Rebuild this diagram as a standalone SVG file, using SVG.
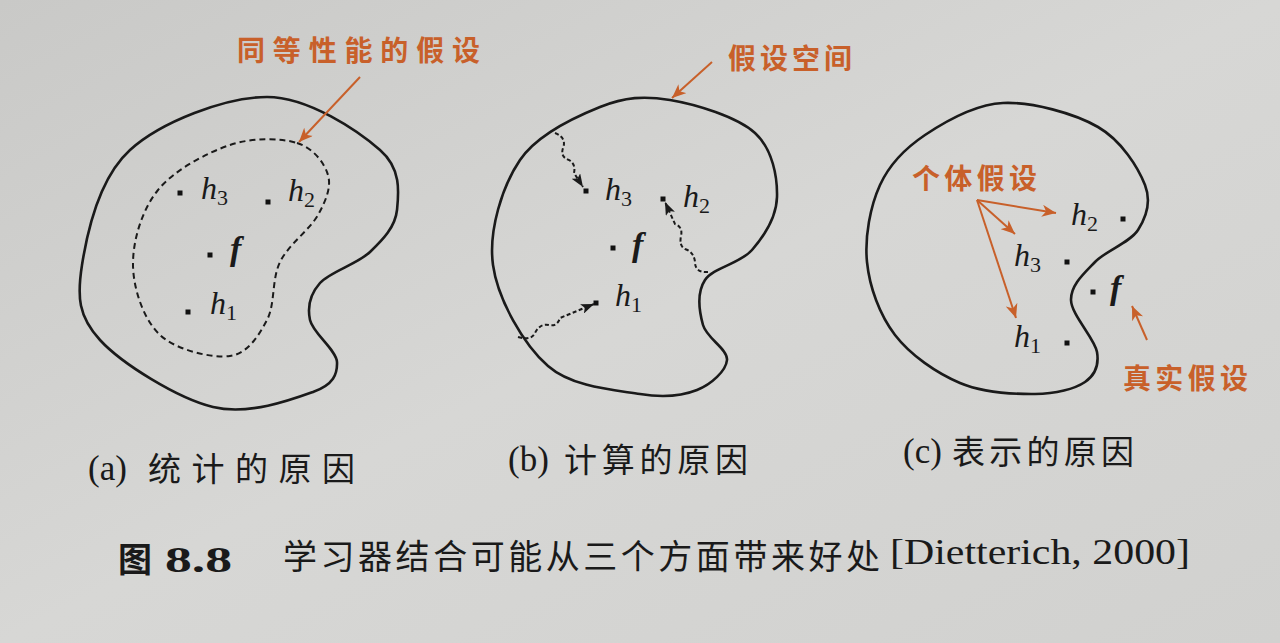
<svg xmlns="http://www.w3.org/2000/svg" width="1280" height="643" viewBox="0 0 1280 643">
<defs>
<linearGradient id="bg" x1="0" y1="0" x2="1" y2="1">
<stop offset="0" stop-color="#c9c9c7"/>
<stop offset="0.5" stop-color="#d7d7d5"/>
<stop offset="1" stop-color="#d1d1cf"/>
</linearGradient>
<marker id="ah" markerWidth="14" markerHeight="10" refX="13" refY="5" orient="auto" markerUnits="userSpaceOnUse">
<path d="M0,0 L13,5 L0,10 L3,5 z" fill="#1a1a1a" stroke="none"/>
</marker>
<marker id="oh" markerWidth="16" markerHeight="12" refX="14" refY="6" orient="auto" markerUnits="userSpaceOnUse">
<path d="M0,0 L14,6 L0,12 L4,6 z" fill="#c8602a" stroke="none"/>
</marker>
</defs>
<style>
.shape{fill:none;stroke:#1a1a1a;stroke-width:2.6}
.dash{fill:none;stroke:#1a1a1a;stroke-width:2;stroke-dasharray:6 4}
.wavy{fill:none;stroke:#1a1a1a;stroke-width:2;stroke-dasharray:4 2.5}
.oline{fill:none;stroke:#c8602a;stroke-width:2}
.dot{fill:#111}
.m{font-family:"Liberation Serif",serif;font-style:italic;font-size:32px;fill:#1a1a1a}
.sub{font-style:normal;font-size:22px}
.fb{font-family:"Liberation Serif",serif;font-style:italic;font-weight:bold;font-size:34px;fill:#1a1a1a}
.ol{font-family:"Noto Sans CJK SC",sans-serif;font-weight:bold;font-size:28px;fill:#c8602a}
.lat{font-family:"Liberation Serif",serif;font-size:35px;fill:#1a1a1a}
.cjk{font-family:"Noto Sans CJK SC",sans-serif;fill:#1a1a1a}
.cap{font-size:33px}
.fig{font-size:34px}
</style>
<rect width="1280" height="643" fill="url(#bg)"/>

<g id="panel-a">
<path class="shape" d="M267,97 C308.7,97 358.3,131.2 380,150 C401.7,168.8 398.7,193 397,210 C395.3,227 382.8,239.8 370,252 C357.2,264.2 330,271.7 320,283 C310,294.3 307.2,306.8 310,320 C312.8,333.2 336.5,350 337,362 C337.5,374 333.7,384.5 313,392 C292.3,399.5 248.5,415.7 213,407 C177.5,398.3 121.8,363.7 100,340 C78.2,316.3 77,296.7 82,265 C87,233.3 99.2,178 130,150 C160.8,122 225.3,97 267,97 Z"/>
<path class="dash" d="M297,143 C313.3,148 324.5,163 328,175 C331.5,187 326,200.5 318,215 C310,229.5 288.5,244.5 280,262 C271.5,279.5 275.3,304.3 267,320 C258.7,335.7 247.8,353.5 230,356 C212.2,358.5 176.2,350.2 160,335 C143.8,319.8 133.3,289.2 133,265 C132.7,240.8 141.8,210 158,190 C174.2,170 206.8,152.8 230,145 C253.2,137.2 280.7,138 297,143 Z"/>
<rect class="dot" x="177.5" y="190.5" width="5" height="5"/>
<text class="m" x="201" y="199">h<tspan class="sub" dy="6">3</tspan></text>
<rect class="dot" x="265.5" y="199.5" width="5" height="5"/>
<text class="m" x="288" y="201">h<tspan class="sub" dy="6">2</tspan></text>
<rect class="dot" x="207.5" y="252.5" width="5" height="5"/>
<text class="fb" x="230" y="260">f</text>
<rect class="dot" x="185.5" y="309.5" width="5" height="5"/>
<text class="m" x="210" y="314">h<tspan class="sub" dy="6">1</tspan></text>
<text class="ol" x="237" y="61" textLength="243" lengthAdjust="spacing">同等性能的假设</text>
<text class="lat" x="88" y="480">(a)</text>
<text class="cjk cap" x="148" y="481" textLength="207" lengthAdjust="spacing">统计的原因</text>
</g>

<g id="panel-b">
<path class="shape" d="M670,100 C695.8,104.3 737.2,116.8 755,133 C772.8,149.2 777.5,177.5 777,197 C776.5,216.5 764,236.2 752,250 C740,263.8 713.2,267.5 705,280 C696.8,292.5 699.3,311.7 703,325 C706.7,338.3 728,349.2 727,360 C726,370.8 711.5,384.3 697,390 C682.5,395.7 664.8,398 640,394 C615.2,390 572.5,387.5 548,366 C523.5,344.5 497.7,299.3 493,265 C488.3,230.7 502.2,186.3 520,160 C537.8,133.7 575,117 600,107 C625,97 644.2,95.7 670,100 Z"/>
<rect class="dot" x="583.5" y="188.5" width="5" height="5"/>
<text class="m" x="605" y="200">h<tspan class="sub" dy="6">3</tspan></text>
<rect class="dot" x="660.5" y="196.5" width="5" height="5"/>
<text class="m" x="683" y="207">h<tspan class="sub" dy="6">2</tspan></text>
<rect class="dot" x="610.5" y="245.5" width="5" height="5"/>
<text class="fb" x="632" y="256">f</text>
<rect class="dot" x="593.5" y="300.5" width="5" height="5"/>
<text class="m" x="615" y="306">h<tspan class="sub" dy="6">1</tspan></text>
<text class="ol" x="728" y="69" textLength="124" lengthAdjust="spacing">假设空间</text>
<text class="lat" x="508" y="471">(b)</text>
<text class="cjk cap" x="564" y="472" textLength="184" lengthAdjust="spacing">计算的原因</text>
</g>

<g id="panel-c">
<path class="shape" d="M1003,103 C1031.8,101.7 1074.3,113.3 1098,127 C1121.7,140.7 1138.3,167.8 1145,185 C1151.7,202.2 1146.3,217.2 1138,230 C1129.7,242.8 1106.2,250.3 1095,262 C1083.8,273.7 1070.7,285 1071,300 C1071.3,315 1094.7,338.3 1097,352 C1099.3,365.7 1095.3,375 1085,382 C1074.7,389 1055.8,393.8 1035,394 C1014.2,394.2 983.3,392.8 960,383 C936.7,373.2 910.5,355.2 895,335 C879.5,314.8 869.5,287 867,262 C864.5,237 870.3,206.2 880,185 C889.7,163.8 904.5,148.7 925,135 C945.5,121.3 974.2,104.3 1003,103 Z"/>
<rect class="dot" x="1120.5" y="216.5" width="5" height="5"/>
<text class="m" x="1071" y="225">h<tspan class="sub" dy="6">2</tspan></text>
<rect class="dot" x="1064.5" y="259.5" width="5" height="5"/>
<text class="m" x="1014" y="266">h<tspan class="sub" dy="6">3</tspan></text>
<rect class="dot" x="1090.5" y="289.5" width="5" height="5"/>
<text class="fb" x="1110" y="299">f</text>
<rect class="dot" x="1064.5" y="340.5" width="5" height="5"/>
<text class="m" x="1014" y="347">h<tspan class="sub" dy="6">1</tspan></text>
<text class="ol" x="912" y="189" textLength="125" lengthAdjust="spacing">个体假设</text>
<text class="ol" x="1123" y="389" textLength="125" lengthAdjust="spacing">真实假设</text>
<text class="lat" x="903" y="463">(c)</text>
<text class="cjk cap" x="952" y="464" textLength="182" lengthAdjust="spacing">表示的原因</text>
</g>

<g id="connectors">
<path class="oline" d="M360,77 L299,142" marker-end="url(#oh)"/>
<path class="oline" d="M712,62 L672,98" marker-end="url(#oh)"/>
<path class="oline" d="M977,200 L1056,213" marker-end="url(#oh)"/>
<path class="oline" d="M977,200 L1015,234" marker-end="url(#oh)"/>
<path class="oline" d="M977,200 L1016,318" marker-end="url(#oh)"/>
<path class="oline" d="M1147,340 L1132,306" marker-end="url(#oh)"/>
<path class="wavy" d="M555,133 Q567,138 563,148 Q560,157 569,160 Q576,164 574,173 L583,187" marker-end="url(#ah)"/>
<path class="wavy" d="M708,272 Q695,273 695,262 Q694,252 685,249 Q679,246 681,236 Q683,227 675,224 L665,202" marker-end="url(#ah)"/>
<path class="wavy" d="M518,337 Q531,341 535,333 Q540,323 549,325 Q557,327 560,318 L594,304" marker-end="url(#ah)"/>
</g>

<g id="caption">
<text class="cjk fig" x="118" y="572" font-weight="bold">图</text>
<text class="lat" x="165" y="572" font-weight="bold" font-size="38" textLength="67" lengthAdjust="spacingAndGlyphs">8.8</text>
<text class="cjk fig" x="283" y="569" textLength="597" lengthAdjust="spacing">学习器结合可能从三个方面带来好处</text>
<text class="lat" x="890" y="564" font-size="36" textLength="300" lengthAdjust="spacingAndGlyphs">[Dietterich, 2000]</text>
</g>
</svg>
